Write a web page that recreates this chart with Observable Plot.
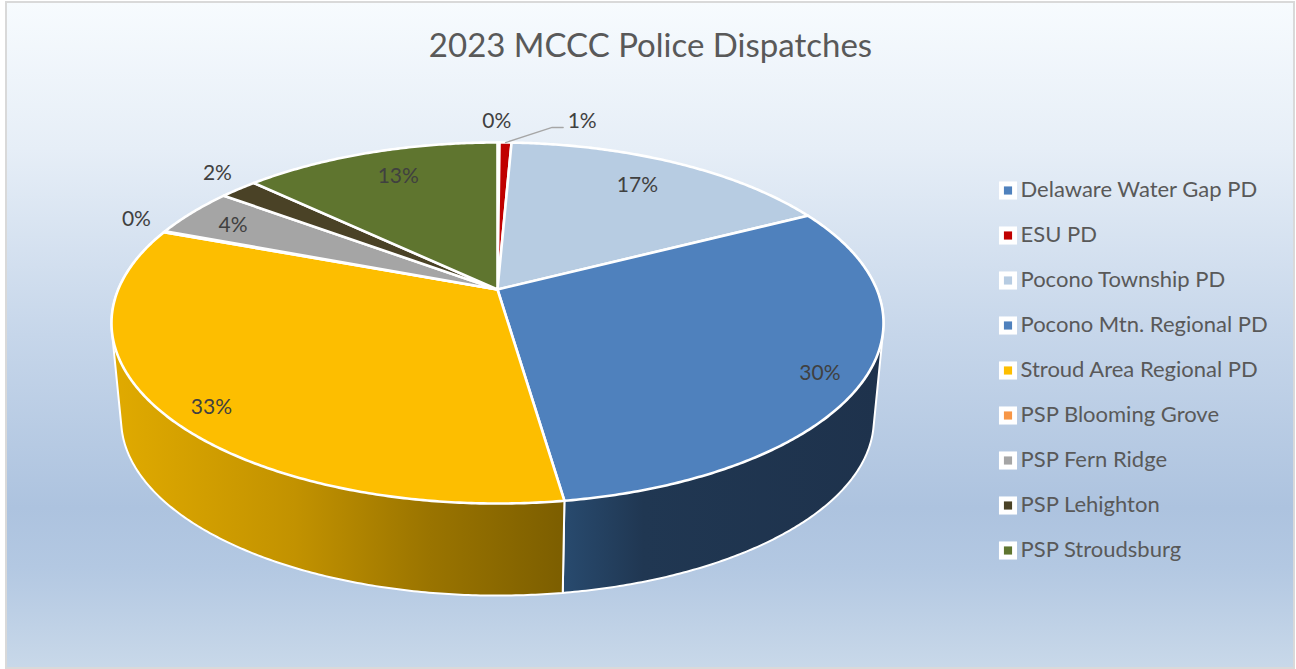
<!DOCTYPE html>
<html>
<head>
<meta charset="utf-8">
<script src="https://cdn.jsdelivr.net/npm/d3@7"></script>
<script src="https://cdn.jsdelivr.net/npm/@observablehq/plot@0.6"></script>
<style>
html,body{margin:0;padding:0;background:#fff;}
#chart{position:relative;width:1296px;height:669px;overflow:hidden;}
#panel{position:absolute;left:5px;top:1px;width:1286px;height:664px;border:2px solid #d9d9d9;
background:linear-gradient(180deg,#f7fbfe 0%,#e6eef7 22%,#c6d6ea 50%,#adc3df 76%,#b3c8e2 85%,#c8d8e9 100%);}
#plot{position:absolute;left:0;top:0;}
</style>
</head>
<body>
<div id="chart"><div id="panel"></div><div id="plot"></div></div>
<script>
// ---- data ----
const chartTitle = "2023 MCCC Police Dispatches";
const agencies = ["Delaware Water Gap PD","ESU PD","Pocono Township PD","Pocono Mtn. Regional PD","Stroud Area Regional PD","PSP Blooming Grove","PSP Fern Ridge","PSP Lehighton","PSP Stroudsburg"];
const shares = [0.1,0.6,16.7,30.3,33.0,0.1,4.4,1.9,12.9];
const colours = ["#4f81bd","#c00000","#b7cce2","#4f81bd","#fdbe00","#f79646","#a5a5a5","#4a4226","#5f752f"];

// ---- layout ----
const W = 1296, H = 669;
const centre = {x:497, y:289};
const disc = {a:379.3, b:174.3, k:0.1856};
const base = {scale:0.975, y:386.4};
// label placement per slice: radius on the disc, angular shift in degrees
const labelRadius = [1.175,1.205,0.79,0.897,0.9,1.118,0.848,1.137,0.793];
const labelShift  = [-0.3,11.6,-0.9,2.4,-3,2.3,-0.8,2,1.2];
const legendRows = {x:1007.5, textX:1020, top:190, step:45};

// ---- geometry derived from the data ----
const total = d3.sum(shares);
const project = (deg, r = 1, s = 1, cy = centre.y) => {
  const t = deg * Math.PI / 180, u = r * Math.sin(t), v = -r * Math.cos(t), D = 1 - disc.k * v;
  return {x: centre.x + s * disc.a * u / D, y: cy + s * disc.b * v / D};
};
let acc = 0;
const slices = agencies.map((name, i) => {
  const start = acc / total * 360; acc += shares[i];
  return {name, i, start, end: acc / total * 360, share: shares[i] / total};
});
const arcAngles = s => {
  const n = Math.max(2, Math.ceil((s.end - s.start) / 0.5));
  return d3.range(n + 1).map(j => s.start + (s.end - s.start) * j / n);
};
const topFaces = slices.flatMap(s => {
  const apex = {x: centre.x, y: centre.y, name: s.name};
  return [apex, ...arcAngles(s).map(a => ({...project(a), name: s.name})), apex];
});
const sidePolygon = name => {
  const s = slices.find(d => d.name === name);
  const pts = arcAngles(s).flatMap(a => {
    const p = project(a), q = project(a, 1, base.scale, base.y);
    return [[p.x, p.y], [q.x, q.y]];
  });
  const hull = d3.polygonHull(pts);
  return [...hull, hull[0]].map(([x, y]) => ({x, y}));
};
const pctLabels = slices.map((s, i) => ({
  ...project((s.start + s.end) / 2 + labelShift[i], labelRadius[i]),
  text: d3.format(".0%")(s.share)
}));
const esu = slices[1], esuLabel = pctLabels[1];
const leader = [project((esu.start + esu.end) / 2), {x: esuLabel.x - 30, y: esuLabel.y + 6}, {x: esuLabel.x - 19, y: esuLabel.y + 6}];
const legend = agencies.map((name, i) => ({name, x: legendRows.x, tx: legendRows.textX, y: legendRows.top + i * legendRows.step}));

const gradient = (id, x1, x2, stops) => {
  const g = d3.create("svg:linearGradient").attr("id", id).attr("gradientUnits", "userSpaceOnUse")
    .attr("x1", x1).attr("x2", x2).attr("y1", 0).attr("y2", 0);
  stops.forEach(([o, c]) => g.append("stop").attr("offset", o).attr("stop-color", c));
  return g.node();
};
const defsMark = () => {
  const d = d3.create("svg:defs");
  d.node().append(gradient("sideGold", 115, 564, [[0,"#e0aa00"],[0.4,"#c29200"],[0.7,"#9a7400"],[1,"#7c5e00"]]));
  d.node().append(gradient("sideBlue", 564, 880, [[0,"#284a6e"],[0.25,"#203752"],[1,"#1e324c"]]));
  return d.node();
};

const chart = Plot.plot({
  width: W, height: H, margin: 0,
  style: {background: "transparent", fontFamily: "Lato, sans-serif"},
  x: {domain: [0, W], range: [0, W], axis: null},
  y: {domain: [0, H], range: [0, H], axis: null},
  color: {domain: agencies, range: colours},
  marks: [
    defsMark,
    Plot.line(sidePolygon("Pocono Mtn. Regional PD"), {x: "x", y: "y", fill: "url(#sideBlue)", stroke: "#fff", strokeWidth: 2}),
    Plot.line(sidePolygon("Stroud Area Regional PD"), {x: "x", y: "y", fill: "url(#sideGold)", stroke: "#fff", strokeWidth: 2}),
    Plot.line(topFaces, {x: "x", y: "y", z: "name", fill: "name", stroke: "#fff", strokeWidth: 2.6, strokeLinejoin: "round"}),
    Plot.line(leader, {x: "x", y: "y", stroke: "#a6a6a6", strokeWidth: 1.3, curve: "linear"}),
    Plot.text(pctLabels, {x: "x", y: "y", text: "text", fontSize: 21, fill: "#404040"}),
    Plot.text([chartTitle], {x: () => 650, y: () => 46, text: d => d, fontSize: 33, fill: "#595959"}),
    Plot.dot(legend, {x: "x", y: "y", symbol: "square", r: 10.2, fill: "#fff"}),
    Plot.dot(legend, {x: "x", y: "y", symbol: "square", r: 4.6, fill: "name"}),
    Plot.text(legend, {x: "tx", y: "y", dy: -1, text: "name", textAnchor: "start", fontSize: 22, fill: "#595959"})
  ]
});
document.getElementById("plot").append(chart);
</script>
</body>
</html>
